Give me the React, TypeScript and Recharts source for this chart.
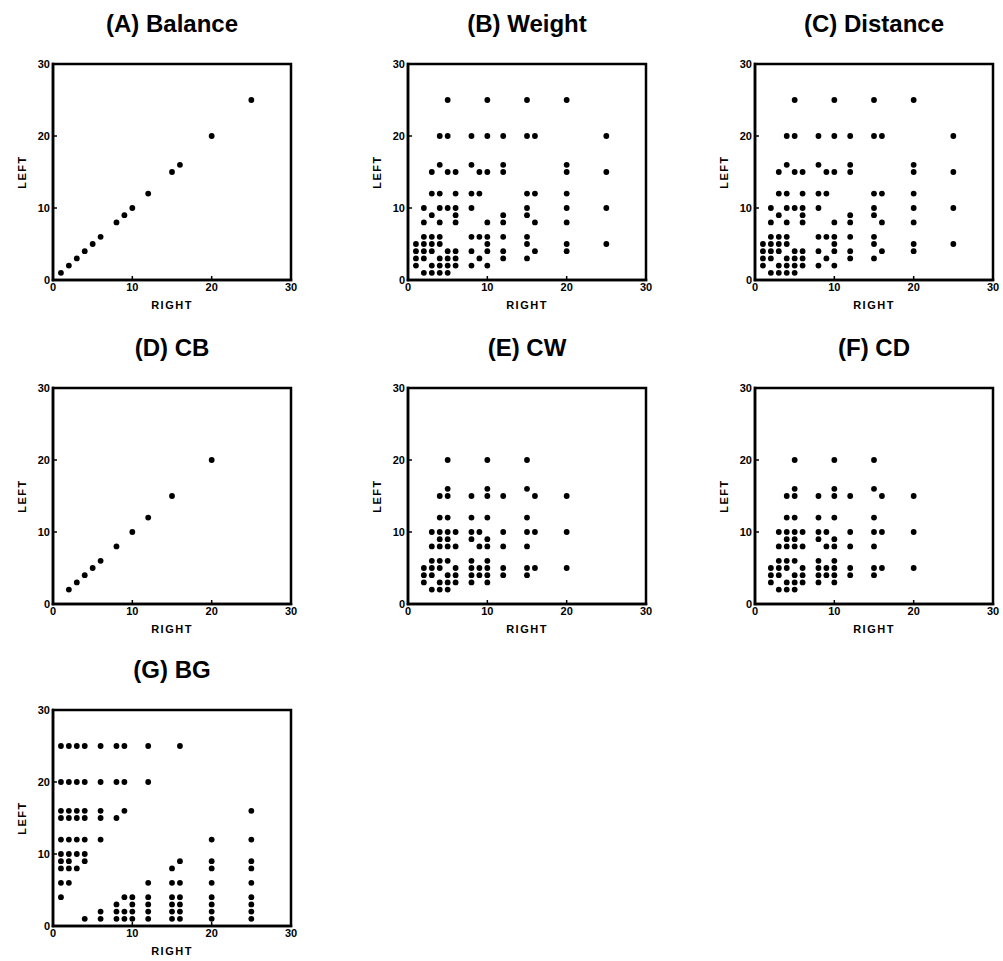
import React from 'react';
import { ScatterChart, Scatter, XAxis, YAxis, ReferenceArea } from 'recharts';

// torques on the diagonal (LEFT = RIGHT)
const balanceTorques = [1, 2, 3, 4, 5, 6, 8, 9, 10, 12, 15, 16, 20, 25];
const cbTorques = [2, 3, 4, 5, 6, 8, 10, 12, 15, 20];

// each row: [LEFT torque, RIGHT torques seen on that row]
const weightRows: [number, number[]][] = [
    [25, [5, 10, 15, 20]],
    [20, [4, 5, 8, 10, 12, 15, 16, 25]],
    [16, [4, 8, 12, 20]],
    [15, [3, 5, 6, 9, 10, 12, 20, 25]],
    [12, [3, 4, 6, 8, 9, 15, 16, 20]],
    [10, [2, 4, 5, 6, 8, 15, 20, 25]],
    [9, [3, 6, 12, 15]],
    [8, [2, 4, 6, 10, 12, 16, 20]],
    [6, [2, 3, 4, 8, 9, 10, 12, 15]],
    [5, [1, 2, 3, 4, 10, 15, 20, 25]],
    [4, [1, 2, 3, 5, 6, 8, 10, 12, 16, 20]],
    [3, [1, 2, 4, 5, 6, 9, 12, 15]],
    [2, [1, 3, 4, 5, 6, 8, 10]],
    [1, [2, 3, 4, 5]],
];

const distanceRows: [number, number[]][] = [
    [25, [5, 10, 15, 20]],
    [20, [4, 5, 8, 10, 12, 15, 16, 25]],
    [16, [4, 8, 12, 20]],
    [15, [3, 5, 6, 9, 10, 12, 20, 25]],
    [12, [3, 4, 6, 8, 9, 15, 16, 20]],
    [10, [2, 4, 5, 6, 8, 15, 20, 25]],
    [9, [3, 6, 12, 15]],
    [8, [2, 4, 6, 10, 12, 16, 20]],
    [6, [2, 3, 4, 8, 9, 10, 12, 15]],
    [5, [1, 2, 3, 4, 10, 15, 20, 25]],
    [4, [1, 2, 3, 5, 6, 8, 10, 12, 16, 20]],
    [3, [1, 2, 4, 5, 6, 9, 12, 15]],
    [2, [1, 3, 4, 5, 6, 8, 10]],
    [1, [2, 3, 4, 5]],
];

const cwRows: [number, number[]][] = [
    [20, [5, 10, 15]],
    [16, [5, 10, 15]],
    [15, [4, 5, 8, 10, 12, 16, 20]],
    [12, [4, 5, 8, 10, 15]],
    [10, [3, 4, 5, 6, 8, 9, 12, 15, 16, 20]],
    [9, [4, 5, 8, 10]],
    [8, [3, 4, 5, 6, 9, 10, 12, 15]],
    [6, [3, 4, 5, 8, 10]],
    [5, [2, 3, 4, 6, 8, 9, 10, 12, 15, 16, 20]],
    [4, [2, 3, 5, 6, 8, 9, 10, 12, 15]],
    [3, [2, 4, 5, 6, 8, 10]],
    [2, [3, 4, 5]],
];

const cdRows: [number, number[]][] = [
    [20, [5, 10, 15]],
    [16, [5, 10, 15]],
    [15, [4, 5, 8, 10, 12, 16, 20]],
    [12, [4, 5, 8, 10, 15]],
    [10, [3, 4, 5, 6, 8, 9, 12, 15, 16, 20]],
    [9, [4, 5, 8, 10]],
    [8, [3, 4, 5, 6, 9, 10, 12, 15]],
    [6, [3, 4, 5, 8, 10]],
    [5, [2, 3, 4, 6, 8, 9, 10, 12, 15, 16, 20]],
    [4, [2, 3, 5, 6, 8, 9, 10, 12, 15]],
    [3, [2, 4, 5, 6, 8, 10]],
    [2, [3, 4, 5]],
];

const bgRows: [number, number[]][] = [
    [25, [1, 2, 3, 4, 6, 8, 9, 12, 16]],
    [20, [1, 2, 3, 4, 6, 8, 9, 12]],
    [16, [1, 2, 3, 4, 6, 9, 25]],
    [15, [1, 2, 3, 4, 6, 8]],
    [12, [1, 2, 3, 4, 6, 20, 25]],
    [10, [1, 2, 3, 4]],
    [9, [1, 2, 4, 16, 20, 25]],
    [8, [1, 2, 3, 15, 20, 25]],
    [6, [1, 2, 12, 15, 16, 20, 25]],
    [4, [1, 9, 10, 12, 15, 16, 20, 25]],
    [3, [8, 10, 12, 15, 16, 20, 25]],
    [2, [6, 8, 9, 10, 12, 15, 16, 20, 25]],
    [1, [4, 6, 8, 9, 10, 12, 15, 16, 20, 25]],
];

const axisTicks = [0, 10, 20, 30];

const diag = (vals: number[]) => vals.map((v) => ({ right: v, left: v }));
const fromRows = (rows: [number, number[]][]) =>
    rows.flatMap(([left, rights]) => rights.map((right) => ({ right, left })));

const panels = [
    { title: '(A) Balance', x: 53, y: 64, data: diag(balanceTorques) },
    { title: '(B) Weight', x: 408, y: 64, data: fromRows(weightRows) },
    { title: '(C) Distance', x: 755, y: 64, data: fromRows(distanceRows) },
    { title: '(D) CB', x: 53, y: 388, data: diag(cbTorques) },
    { title: '(E) CW', x: 408, y: 388, data: fromRows(cwRows) },
    { title: '(F) CD', x: 755, y: 388, data: fromRows(cdRows) },
    { title: '(G) BG', x: 53, y: 710, data: fromRows(bgRows) },
];

// plot box size and chart margins
const PW = 238;
const PH = 216;
const ML = 45;
const MT = 10;
const MR = 15;
const XH = 35;

const font = '"Liberation Sans", Arial, Helvetica, sans-serif';
const frame = { stroke: '#000', strokeWidth: 2.5, strokeLinecap: 'square' as const };
const tickMark = { stroke: '#000', strokeWidth: 1.5 };
const tickText = { fill: '#000', fontSize: 11, fontWeight: 700, fontFamily: font };

const Dot = (p: any) => <circle cx={p.cx} cy={p.cy} r={2.9} fill="#000" />;

function Panel({ title, x, y, data }: { title: string; x: number; y: number; data: any[] }) {
    return (
        <>
            <div style={{ position: 'absolute', left: x, top: y - 52, width: PW, textAlign: 'center', fontFamily: font, fontWeight: 700, fontSize: 24, lineHeight: '24px', color: '#000' }}>
                {title}
            </div>
            <div style={{ position: 'absolute', left: x - ML, top: y - MT }}>
                <ScatterChart width={ML + PW + MR} height={MT + PH + XH} margin={{ top: MT, right: MR, bottom: 0, left: 0 }}>
                    <XAxis type="number" dataKey="right" domain={[0, 30]} ticks={axisTicks} allowDataOverflow height={XH}
                        axisLine={frame} tickLine={tickMark} tickSize={-4} tickMargin={7} tick={tickText} />
                    <YAxis type="number" dataKey="left" domain={[0, 30]} ticks={axisTicks} allowDataOverflow width={ML}
                        axisLine={frame} tickLine={tickMark} tickSize={-4} tickMargin={7} tick={tickText} />
                    <ReferenceArea x1={0} x2={30} y1={0} y2={30} fill="none" stroke="#000" strokeWidth={2.5} ifOverflow="visible" />
                    <Scatter data={data} fill="#000" shape={Dot} isAnimationActive={false} />
                </ScatterChart>
            </div>
            <div style={{ position: 'absolute', left: x, top: y + PH + 18, width: PW, textAlign: 'center', fontFamily: font, fontWeight: 700, fontSize: 11, lineHeight: '14px', letterSpacing: 1.5 }}>
                RIGHT
            </div>
            <div style={{ position: 'absolute', left: x - 31, top: y + PH / 2, transform: 'translate(-50%, -50%) rotate(-90deg)', fontFamily: font, fontWeight: 700, fontSize: 11, lineHeight: '14px', letterSpacing: 1.5, whiteSpace: 'nowrap' }}>
                LEFT
            </div>
        </>
    );
}

export default function App() {
    return (
        <div style={{ position: 'absolute', left: 0, top: 0, width: 1003, height: 961, overflow: 'hidden', background: '#fff' }}>
            {panels.map((p) => (
                <Panel key={p.title} {...p} />
            ))}
        </div>
    );
}
